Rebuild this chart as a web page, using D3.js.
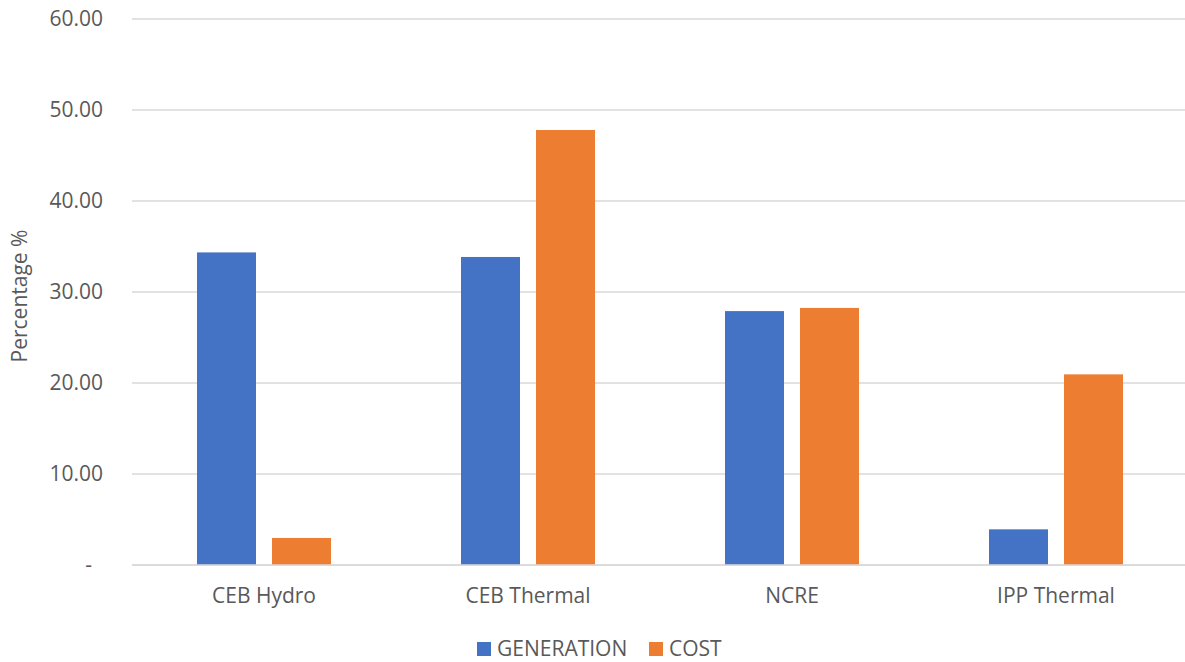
<!DOCTYPE html>
<html><head><meta charset="utf-8">
<script src="https://cdn.jsdelivr.net/npm/d3@7"></script>
<style>body{margin:0;background:#fff}svg{display:block}text{font-family:"Open Sans",sans-serif;fill:#595959}</style>
</head><body><svg id="c" width="1185" height="662"></svg>
<script>
const categories = ["CEB Hydro", "CEB Thermal", "NCRE", "IPP Thermal"];
const seriesNames = ["GENERATION", "COST"];
const generation = [34.35, 33.85, 27.9, 3.92];
const cost = [2.97, 47.8, 28.25, 20.95];
const yTicks = [0, 10, 20, 30, 40, 50, 60];
const colors = ["#4472C4", "#ED7D31"];

const svg = d3.select("#c");
const plotLeft = 132, plotRight = 1188, plotTop = 19, plotBottom = 565;
const y = d3.scaleLinear().domain([0, 60]).range([plotBottom, plotTop]);
const x0 = d3.scaleBand().domain(categories).range([plotLeft, plotRight]).paddingInner(0.4924).paddingOuter(0.4924/2);
const x1 = d3.scaleBand().domain(seriesNames).range([0, x0.bandwidth()]).paddingInner(0.2133).paddingOuter(0);

// gridlines
svg.append("g").selectAll("line").data(yTicks).join("line")
  .attr("x1", plotLeft).attr("x2", plotRight)
  .attr("y1", d => y(d)).attr("y2", d => y(d))
  .attr("stroke", "#d9d9d9").attr("stroke-width", 1.5);

// y labels
svg.append("g").selectAll("text").data(yTicks).join("text")
  .attr("x", d => d === 0 ? 92 : 103).attr("y", d => y(d)).attr("dy", "0.35em")
  .attr("text-anchor", "end").style("font-size", "21px")
  .text(d => d === 0 ? "-" : d3.format(".2f")(d));

// bars
const data = categories.map((c, i) => ({c, vals: [generation[i], cost[i]]}));
const g = svg.append("g").selectAll("g").data(data).join("g")
  .attr("transform", d => `translate(${x0(d.c)},0)`);
g.selectAll("rect").data(d => d.vals.map((v, j) => ({v, s: seriesNames[j], j})))
  .join("rect")
  .attr("x", d => x1(d.s)).attr("width", x1.bandwidth())
  .attr("y", d => y(d.v)).attr("height", d => y(0) - y(d.v))
  .attr("fill", d => colors[d.j]);

// baseline redraw
svg.append("line").attr("x1", plotLeft).attr("x2", plotRight).attr("y1", y(0)).attr("y2", y(0))
  .attr("stroke", "#d9d9d9").attr("stroke-width", 1.5);

// category labels
svg.append("g").selectAll("text").data(categories).join("text")
  .attr("x", d => x0(d) + x0.bandwidth() / 2).attr("y", 596).attr("dy", "0.35em")
  .attr("text-anchor", "middle").style("font-size", "21px").text(d => d);

// y title
svg.append("text").attr("transform", "translate(20,296) rotate(-90)")
  .attr("dy", "0.35em").attr("text-anchor", "middle").style("font-size", "21px").text("Percentage %");

// legend
const legX = [477, 649];
const leg = svg.append("g").selectAll("g").data(seriesNames).join("g")
  .attr("transform", (d, i) => `translate(${legX[i]},649)`);
leg.append("rect").attr("x", 0).attr("y", -7).attr("width", 14).attr("height", 14).attr("fill", (d, i) => colors[i]);
leg.append("text").attr("x", 20).attr("dy", "0.35em").style("font-size", "21px").text(d => d);
</script></body></html>
